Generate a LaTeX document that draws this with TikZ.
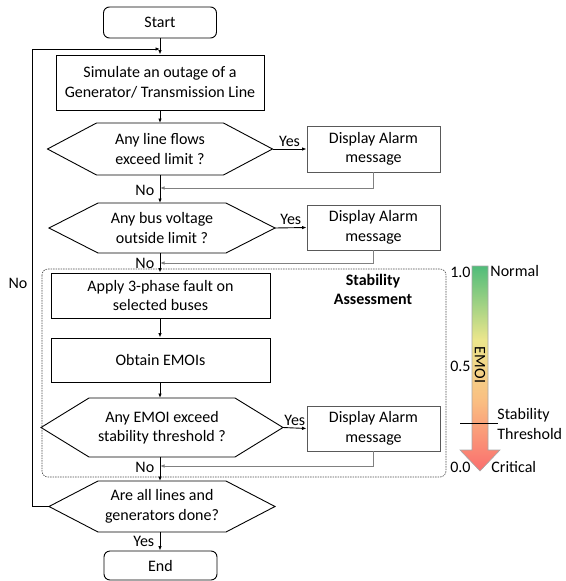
\documentclass[tikz,border=0pt]{standalone}
\usepackage{fontspec}
\setmainfont{Carlito}
\usetikzlibrary{arrows.meta,calc}

\definecolor{bargreen}{RGB}{80,188,122}
\definecolor{baryellow}{RGB}{236,230,140}
\definecolor{barorange}{RGB}{250,190,130}
\definecolor{barred}{RGB}{250,110,110}
\pgfdeclareverticalshading{emoibar}{100bp}{color(0bp)=(barred); color(25bp)=(barred); color(42bp)=(barorange); color(57bp)=(baryellow); color(75bp)=(bargreen); color(100bp)=(bargreen)}

% hexagonal decision outline around a named node
\newcommand{\hexframe}[2]{%
  \draw (#1.west) -- ($(#1.north west)+(#2,0)$) -- ($(#1.north east)+(-#2,0)$) -- (#1.east)
    -- ($(#1.south east)+(-#2,0)$) -- ($(#1.south west)+(#2,0)$) -- cycle;}

\begin{document}
\begin{tikzpicture}[x=1pt,y=-1pt,line width=0.9pt,
    font=\fontsize{16}{19.5}\selectfont,
    flow/.style={-{Latex[length=4.5pt,width=3.5pt]}},
    backflow/.style={flow,draw=black!50},
    startend/.style={draw,rounded corners=6pt,minimum width=113pt,minimum height=31pt,inner sep=2pt},
    procbox/.style={draw,minimum width=219pt,minimum height=45pt,align=center,inner sep=2pt},
    alarmbox/.style={draw=black!65,minimum width=133pt,minimum height=46pt,align=center,inner sep=2pt},
    hexbox/.style={rectangle,outer sep=0pt,align=center,inner sep=2pt}]
  \useasboundingbox (0,0) rectangle (565,581);

  % main column
  \node[startend] (start) at (160,22.5) {Start};
  \node[procbox,minimum width=208pt,minimum height=55pt] (sim) at (160,82.5) {Simulate an outage of a\\Generator/ Transmission Line};
  \node[hexbox,minimum width=225pt,minimum height=52pt] (flows) at (160,149) {Any line flows\\exceed limit ?};
  \node[hexbox,minimum width=226pt,minimum height=50pt] (volt) at (162,228) {Any bus voltage\\outside limit ?};
  \node[procbox] (fault) at (160.5,295.5) {Apply 3-phase fault on\\selected buses};
  \node[procbox,minimum height=44pt] (emoi) at (160.5,360) {Obtain EMOIs};
  \node[hexbox,minimum width=242pt,minimum height=59pt] (thr) at (162,427.5) {Any EMOI exceed\\stability threshold ?};
  \node[hexbox,minimum width=226pt,minimum height=51pt] (done) at (162,506.5) {Are all lines and\\generators done?};
  \node[startend,minimum height=29pt] (finish) at (160.5,565.5) {End};
  \hexframe{flows}{49}
  \hexframe{volt}{49}
  \hexframe{thr}{48}
  \hexframe{done}{49}

  % alarm boxes
  \node[alarmbox] (alarmA) at (373.5,149) {Display Alarm\\message};
  \node[alarmbox,minimum height=45pt] (alarmB) at (373.5,227.5) {Display Alarm\\message};
  \node[alarmbox,minimum height=45pt] (alarmC) at (373.5,428.5) {Display Alarm\\message};

  % stability block
  \draw[black!70,line width=0.6pt,dash pattern=on 1.5pt off 1pt,rounded corners=6pt] (42,269) rectangle (446,477);
  \node[font=\fontsize{16}{19.5}\selectfont\bfseries,align=center] (stab) at (373,289.5) {Stability\\Assessment};

  % join points
  \coordinate (joinA) at (160,188);
  \coordinate (joinB) at (160,263);
  \coordinate (joinC) at (160,466);
  \coordinate (loop) at (32,49);

  \draw[flow] (start) -- (sim);
  \draw[flow] (sim) -- (sim.south |- flows.north);
  \draw[flow] (flows.south -| joinA) -- (volt.north -| joinA);
  \draw[flow] (volt.south -| joinB) -- (fault.north -| joinB);
  \draw[flow] (fault.south -| joinB) -- (emoi.north -| joinB);
  \draw[flow] (emoi.south -| joinB) -- (thr.north -| joinB);
  \draw[flow] (thr.south -| joinC) -- (done.north -| joinC);
  \draw[flow] (done.south -| joinC) -- (finish.north -| joinC);

  \draw[flow] (flows.east) -- (alarmA.west) node[midway,above=-1pt] {Yes};
  \draw[flow] (volt.east) -- (alarmB.west) node[midway,above=-1pt] {Yes};
  \draw[flow] (thr.east) -- (alarmC.west) node[midway,above=-1pt] {Yes};

  \draw[backflow] (alarmA.south) |- (joinA);
  \draw[backflow] (alarmB.south) |- (joinB);
  \draw[backflow] (alarmC.south) |- (joinC);

  \node[anchor=east] at ($(joinA)+(-2,2)$) {No};
  \node[anchor=east] at ($(joinB)+(-2,0)$) {No};
  \node[anchor=east] at ($(joinC)+(-2,1)$) {No};
  \node[anchor=east] at ($(done.south -| joinC)+(-2,9)$) {Yes};

  % back to the next outage
  \draw[flow] (done.west) -| (loop) -- (loop -| start.south);
  \node at (18,283) {No};

  % EMOI scale
  \shade[shading=emoibar,draw=black!35,line width=0.6pt]
    (472,266) -- (488,266) -- (488,450) -- (500,450) -- (480,471) -- (460,450) -- (472,450) -- cycle;
  \node[rotate=-90] (emoilabel) at (480,365) {EMOI};
  \draw[line width=0.8pt] (460,423) -- (498,423);
  \node[anchor=east,inner sep=1pt] at (472,272) {1.0};
  \node[anchor=east,inner sep=1pt] at (472,366) {0.5};
  \node[anchor=east,inner sep=1pt] at (472,467) {0.0};
  \node[anchor=west,inner sep=1pt] at (489,271) {Normal};
  \node[anchor=west,inner sep=1pt] at (490,467) {Critical};
  \node[anchor=west,align=left,inner sep=1pt] at (496,424) {Stability\\Threshold};
\end{tikzpicture}
\end{document}
